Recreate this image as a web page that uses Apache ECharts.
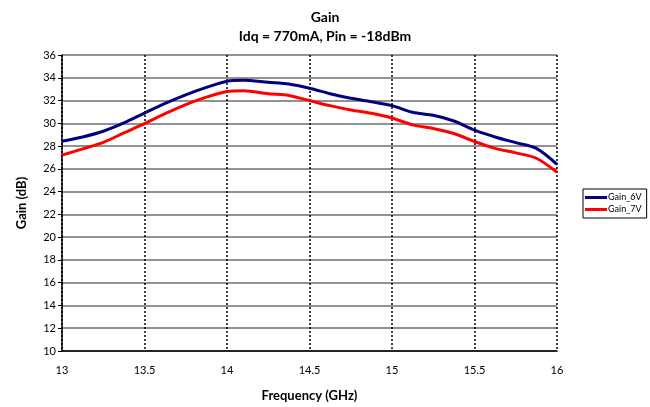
<!DOCTYPE html>
<html><head><meta charset="utf-8">
<script src="https://cdn.jsdelivr.net/npm/echarts@6/dist/echarts.min.js"></script>
<style>html,body{margin:0;padding:0;background:#fff}#c{width:650px;height:407px}</style>
</head><body><div id="c"></div>
<script>
const freq = [13.0,13.125,13.25,13.375,13.5,13.625,13.75,13.875,14.0,14.1,14.25,14.375,14.5,14.625,14.75,14.875,15.0,15.125,15.25,15.375,15.5,15.625,15.75,15.875,16.0];
const gain6V = [28.42,28.8,29.3,30.03,30.9,31.75,32.5,33.15,33.7,33.78,33.6,33.45,33.08,32.6,32.2,31.9,31.55,30.97,30.7,30.2,29.4,28.8,28.3,27.8,26.4];
const gain7V = [27.2,27.75,28.33,29.15,29.97,30.85,31.65,32.3,32.8,32.87,32.6,32.45,32.0,31.55,31.17,30.88,30.47,29.86,29.54,29.1,28.4,27.8,27.4,26.93,25.7];
const seriesNames = ['Gain_6V','Gain_7V'];
const font = 'Lato, "Open Sans", sans-serif';
const chart = echarts.init(document.getElementById('c'));
chart.setOption({
  animation:false,
  backgroundColor:'#fff',
  title:{text:'Gain\nIdq = 770mA, Pin = -18dBm',left:'center',top:3,
    textStyle:{fontFamily:font,fontWeight:'bold',fontSize:14,color:'#000',lineHeight:19}},
  legend:{data:seriesNames,orient:'vertical',left:583,top:189,
    backgroundColor:'#fff',borderColor:'#000',borderWidth:1,borderRadius:0,
    padding:[4,5,4,2],itemGap:3,itemWidth:22,itemHeight:3,
    icon:'rect',textStyle:{fontFamily:font,fontSize:9,color:'#000',padding:[0,0,0,-4]}},
  grid:{left:62,right:93,top:55,bottom:55},
  xAxis:{type:'value',min:13,max:16,interval:0.5,
    name:'Frequency (GHz)',nameLocation:'middle',nameGap:38,
    nameTextStyle:{fontFamily:font,fontWeight:'bold',fontSize:13,color:'#000'},
    axisLine:{lineStyle:{color:'#000',width:1.5}},axisTick:{show:false},
    axisLabel:{fontFamily:font,fontSize:11,color:'#000',margin:14},
    splitLine:{show:true,lineStyle:{color:'#000',type:[2,2],width:1.5}}},
  yAxis:{type:'value',min:10,max:36,interval:2,
    name:'Gain (dB)',nameLocation:'middle',nameGap:34,
    nameTextStyle:{fontFamily:font,fontWeight:'bold',fontSize:13,color:'#000'},
    axisLine:{show:true,lineStyle:{color:'#000',width:1.5}},
    axisTick:{show:true,length:4,inside:false,lineStyle:{color:'#000'}},
    axisLabel:{fontFamily:font,fontSize:11,color:'#000',margin:6},
    splitLine:{show:true,lineStyle:{color:'#6e6e6e',width:1.5}}},
  series:[
    {name:seriesNames[0],type:'line',smooth:0.3,symbol:'none',
     data:freq.map((f,i)=>[f,gain6V[i]]),lineStyle:{color:'#000080',width:3},itemStyle:{color:'#000080'}},
    {name:seriesNames[1],type:'line',smooth:0.3,symbol:'none',
     data:freq.map((f,i)=>[f,gain7V[i]]),lineStyle:{color:'#ff0000',width:3},itemStyle:{color:'#ff0000'}}
  ]
});
</script></body></html>
